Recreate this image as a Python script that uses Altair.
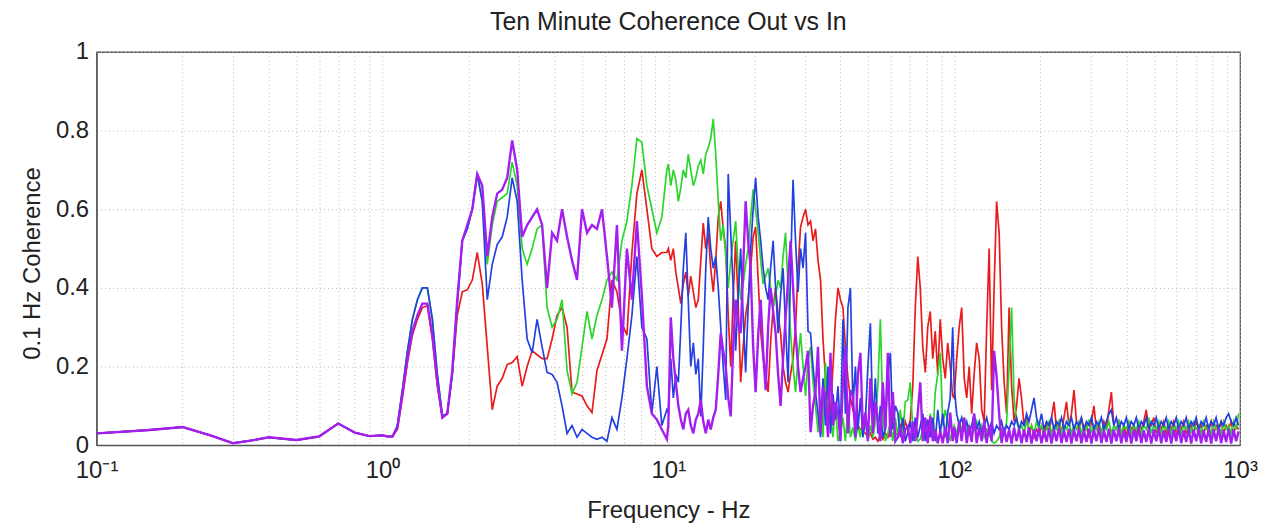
import altair as alt
import pandas as pd

# ---------------- data ----------------
low_freq = [0.1, 0.15, 0.2, 0.25, 0.3, 0.35, 0.4, 0.5, 0.6, 0.7, 0.8, 0.9]
low_vals = [0.03, 0.038, 0.046, 0.025, 0.005, 0.012, 0.02, 0.013, 0.022, 0.055, 0.032, 0.023]

freq_1_10 = [1.0, 1.041, 1.084, 1.128, 1.174, 1.223, 1.273, 1.325, 1.379, 1.436,
             1.495, 1.556, 1.62, 1.686, 1.755, 1.827, 1.902, 1.98, 2.062, 2.146,
             2.234, 2.326, 2.421, 2.52, 2.624, 2.731, 2.843, 2.96, 3.081, 3.207,
             3.339, 3.475, 3.618, 3.766, 3.921, 4.081, 4.249, 4.423, 4.604, 4.793,
             4.99, 5.194, 5.407, 5.629, 5.86, 6.1, 6.35, 6.61, 6.882, 7.164,
             7.457, 7.763, 8.081, 8.414, 8.758, 9.118, 9.491, 9.88]

freq_10_100 = [10.0, 10.20, 10.41, 10.62, 10.84, 11.06, 11.28, 11.51, 11.74, 11.98,
               12.23, 12.48, 12.73, 12.99, 13.25, 13.52, 13.79, 14.07, 14.36, 14.65,
               14.95, 15.25, 15.56, 15.88, 16.20, 16.53, 16.86, 17.20, 17.55, 17.91,
               18.27, 18.64, 19.02, 19.41, 19.80, 20.20, 20.62, 21.04, 21.46, 21.90,
               22.34, 22.79, 23.26, 23.73, 24.21, 24.70, 25.20, 25.71, 26.24, 26.77,
               27.31, 27.86, 28.43, 29.01, 29.60, 30.20, 30.81, 31.44, 32.07, 32.72,
               33.39, 34.07, 34.75, 35.46, 36.18, 36.91, 37.66, 38.42, 39.21, 40.01,
               40.81, 41.64, 42.49, 43.35, 44.23, 45.13, 46.04, 46.97, 47.93, 48.90,
               49.90, 50.91, 51.94, 52.99, 54.07, 55.17, 56.29, 57.43, 58.60, 59.79,
               61.00, 62.24, 63.50, 64.79, 66.10, 67.44, 68.82, 70.22, 71.64, 73.09,
               74.57, 76.08, 77.63, 79.21, 80.81, 82.45, 84.14, 85.85, 87.58, 89.36,
               91.18, 93.03, 94.91, 96.84, 98.80]

freq_100_1000 = [100.0, 102.0, 104.1, 106.2, 108.4, 110.6, 112.8, 115.1, 117.4, 119.8,
                 122.3, 124.8, 127.3, 129.9, 132.5, 135.2, 137.9, 140.7, 143.6, 146.5,
                 149.5, 152.5, 155.6, 158.8, 162.0, 165.3, 168.6, 172.0, 175.5, 179.1,
                 182.7, 186.4, 190.2, 194.1, 198.0, 202.0, 206.2, 210.4, 214.6, 219.0,
                 223.4, 227.9, 232.6, 237.3, 242.1, 247.0, 252.0, 257.1, 262.4, 267.7,
                 273.1, 278.6, 284.3, 290.1, 296.0, 302.0, 308.1, 314.4, 320.7, 327.2,
                 333.9, 340.7, 347.5, 354.6, 361.8, 369.1, 376.6, 384.2, 392.1, 400.1,
                 408.1, 416.4, 424.9, 433.5, 442.3, 451.3, 460.4, 469.7, 479.3, 489.0,
                 499.0, 509.1, 519.4, 529.9, 540.7, 551.7, 562.9, 574.3, 586.0, 597.9,
                 610.0, 622.4, 635.0, 647.9, 661.0, 674.4, 688.2, 702.2, 716.4, 730.9,
                 745.7, 760.8, 776.3, 792.1, 808.1, 824.5, 841.4, 858.5, 875.8, 893.6,
                 911.8, 930.3, 949.1, 968.4, 988.0]

# ---- red ----
red_1_10 = [0.025, 0.022, 0.022, 0.04, 0.12, 0.21, 0.28, 0.32, 0.35, 0.355,
            0.27, 0.15, 0.07, 0.08, 0.18, 0.33, 0.39, 0.395, 0.42, 0.49,
            0.41, 0.25, 0.09, 0.15, 0.17, 0.205, 0.21, 0.225, 0.15, 0.2,
            0.24, 0.23, 0.22, 0.22, 0.27, 0.33, 0.35, 0.30, 0.135, 0.13,
            0.125, 0.10, 0.083, 0.19, 0.23, 0.27, 0.42, 0.39, 0.31, 0.28,
            0.49, 0.64, 0.70, 0.60, 0.50, 0.48, 0.49, 0.49]
red_10_100 = [0.50, 0.47, 0.50, 0.44, 0.40, 0.36, 0.41, 0.44, 0.38, 0.43,
              0.39, 0.35, 0.37, 0.47, 0.565, 0.50, 0.54, 0.45, 0.39, 0.47,
              0.58, 0.62, 0.55, 0.50, 0.33, 0.20, 0.38, 0.52, 0.36, 0.16,
              0.25, 0.33, 0.37, 0.45, 0.53, 0.555, 0.42, 0.29, 0.22, 0.18,
              0.135, 0.26, 0.35, 0.40, 0.33, 0.285, 0.2, 0.16, 0.135, 0.18,
              0.22, 0.30, 0.45, 0.555, 0.58, 0.60, 0.56, 0.57, 0.52, 0.55,
              0.47, 0.42, 0.27, 0.17, 0.12, 0.08, 0.2, 0.32, 0.40, 0.37,
              0.35, 0.25, 0.17, 0.12, 0.09, 0.065, 0.05, 0.04, 0.035, 0.03,
              0.02, 0.03, 0.015, 0.02, 0.01, 0.025, 0.015, 0.03, 0.02, 0.04,
              0.02, 0.03, 0.025, 0.05, 0.03, 0.06, 0.04, 0.065, 0.15, 0.35,
              0.48, 0.40, 0.25, 0.185, 0.30, 0.34, 0.22, 0.29, 0.18, 0.32,
              0.22, 0.17, 0.26, 0.20, 0.125]
red_100_1000 = [0.12, 0.22, 0.30, 0.35, 0.17, 0.12, 0.20, 0.08, 0.18, 0.26,
                0.22, 0.09, 0.06, 0.30, 0.50, 0.14, 0.40, 0.62, 0.54, 0.30,
                0.16, 0.08, 0.35, 0.15, 0.06, 0.10, 0.17, 0.12, 0.05, 0.075,
                0.03, 0.05, 0.02, 0.04, 0.03, 0.05, 0.02, 0.06, 0.03, 0.07,
                0.11, 0.04, 0.06, 0.03, 0.07, 0.11, 0.05, 0.08, 0.14, 0.06,
                0.04, 0.07, 0.03, 0.05, 0.02, 0.06, 0.10, 0.04, 0.05, 0.03,
                0.06, 0.04, 0.09, 0.135, 0.05, 0.04, 0.06, 0.03, 0.05, 0.02,
                0.06, 0.04, 0.05, 0.03, 0.05, 0.04, 0.06, 0.09, 0.04, 0.05,
                0.07, 0.03, 0.05, 0.04, 0.06, 0.03, 0.05, 0.04, 0.06, 0.03,
                0.05, 0.04, 0.06, 0.03, 0.04, 0.05, 0.03, 0.06, 0.04, 0.05,
                0.03, 0.05, 0.04, 0.06, 0.03, 0.05, 0.04, 0.06, 0.03, 0.05,
                0.04, 0.06, 0.03, 0.05, 0.04]

# ---- green ----
green_1_10 = [0.025, 0.022, 0.022, 0.05, 0.14, 0.24, 0.32, 0.37, 0.40, 0.40,
              0.32, 0.18, 0.075, 0.08, 0.18, 0.36, 0.52, 0.55, 0.60, 0.69,
              0.62, 0.46, 0.56, 0.62, 0.63, 0.64, 0.72, 0.66, 0.50, 0.46,
              0.50, 0.55, 0.56, 0.35, 0.30, 0.32, 0.37, 0.19, 0.13, 0.16,
              0.25, 0.34, 0.27, 0.33, 0.37, 0.42, 0.44, 0.42, 0.52, 0.57,
              0.66, 0.78, 0.77, 0.66, 0.60, 0.54, 0.58, 0.70]
green_10_100 = [0.715, 0.66, 0.70, 0.675, 0.62, 0.655, 0.70, 0.68, 0.74, 0.70,
                0.66, 0.68, 0.71, 0.725, 0.69, 0.74, 0.757, 0.78, 0.83, 0.74,
                0.62, 0.52, 0.56, 0.48, 0.40, 0.47, 0.52, 0.57, 0.45, 0.37,
                0.41, 0.46, 0.50, 0.58, 0.65, 0.60, 0.54, 0.47, 0.41, 0.43,
                0.45, 0.40, 0.35, 0.38, 0.42, 0.40, 0.48, 0.54, 0.40, 0.285,
                0.20, 0.135, 0.22, 0.285, 0.20, 0.125, 0.22, 0.25, 0.16, 0.10,
                0.033, 0.12, 0.02, 0.21, 0.05, 0.08, 0.02, 0.10, 0.01, 0.033,
                0.07, 0.01, 0.10, 0.02, 0.045, 0.01, 0.05, 0.02, 0.06, 0.065,
                0.01, 0.05, 0.02, 0.06, 0.15, 0.32, 0.08, 0.01, 0.03, 0.06,
                0.01, 0.07, 0.02, 0.09, 0.03, 0.11, 0.115, 0.16, 0.04, 0.05,
                0.01, 0.015, 0.04, 0.065, 0.01, 0.08, 0.02, 0.135, 0.18, 0.235,
                0.05, 0.09, 0.058, 0.01, 0.04]
green_100_1000 = [0.05, 0.03, 0.06, 0.04, 0.07, 0.03, 0.05, 0.02, 0.04, 0.06,
                  0.03, 0.05, 0.02, 0.04, 0.03, 0.01, 0.005, 0.01, 0.02, 0.04,
                  0.03, 0.058, 0.20, 0.35, 0.12, 0.06, 0.04, 0.05, 0.03, 0.06,
                  0.04, 0.05, 0.03, 0.06, 0.04, 0.05, 0.03, 0.04, 0.06, 0.03,
                  0.05, 0.04, 0.06, 0.03, 0.05, 0.04, 0.06, 0.03, 0.05, 0.04,
                  0.06, 0.03, 0.05, 0.04, 0.065, 0.03, 0.05, 0.04, 0.06, 0.03,
                  0.05, 0.04, 0.06, 0.03, 0.05, 0.04, 0.06, 0.03, 0.05, 0.04,
                  0.06, 0.03, 0.05, 0.04, 0.06, 0.03, 0.05, 0.04, 0.07, 0.03,
                  0.05, 0.04, 0.06, 0.03, 0.05, 0.04, 0.06, 0.03, 0.05, 0.04,
                  0.06, 0.03, 0.05, 0.04, 0.06, 0.03, 0.058, 0.04, 0.05, 0.03,
                  0.06, 0.04, 0.05, 0.03, 0.06, 0.04, 0.05, 0.03, 0.06, 0.04,
                  0.05, 0.03, 0.06, 0.04, 0.08]

# ---- blue ----
blue_1_10 = [0.025, 0.022, 0.022, 0.05, 0.14, 0.24, 0.32, 0.37, 0.40, 0.40,
             0.32, 0.18, 0.075, 0.08, 0.18, 0.36, 0.52, 0.55, 0.60, 0.69,
             0.62, 0.37, 0.46, 0.51, 0.53, 0.58, 0.68, 0.62, 0.42, 0.27,
             0.235, 0.32, 0.25, 0.185, 0.18, 0.16, 0.10, 0.03, 0.05, 0.02,
             0.04, 0.03, 0.02, 0.015, 0.02, 0.01, 0.07, 0.04, 0.12, 0.22,
             0.33, 0.48, 0.30, 0.27, 0.08, 0.2, 0.05, 0.09]
blue_10_100 = [0.083, 0.22, 0.12, 0.18, 0.16, 0.30, 0.45, 0.54, 0.37, 0.20,
               0.26, 0.18, 0.22, 0.073, 0.25, 0.45, 0.58, 0.50, 0.45, 0.48,
               0.40, 0.30, 0.20, 0.115, 0.69, 0.54, 0.40, 0.24, 0.38, 0.50,
               0.33, 0.185, 0.35, 0.50, 0.60, 0.68, 0.58, 0.52, 0.45, 0.40,
               0.37, 0.45, 0.52, 0.40, 0.285, 0.38, 0.45, 0.30, 0.16, 0.45,
               0.675, 0.52, 0.39, 0.50, 0.45, 0.54, 0.29, 0.285, 0.20, 0.135,
               0.08, 0.02, 0.17, 0.05, 0.20, 0.03, 0.13, 0.065, 0.15, 0.03,
               0.32, 0.08, 0.35, 0.40, 0.10, 0.20, 0.04, 0.12, 0.02, 0.065,
               0.20, 0.31, 0.05, 0.17, 0.03, 0.10, 0.02, 0.04, 0.18, 0.235,
               0.04, 0.10, 0.083, 0.02, 0.07, 0.01, 0.033, 0.06, 0.01, 0.07,
               0.02, 0.048, 0.08, 0.01, 0.065, 0.02, 0.07, 0.01, 0.09, 0.03,
               0.08, 0.02, 0.083, 0.12, 0.30]
blue_100_1000 = [0.15, 0.08, 0.05, 0.07, 0.04, 0.06, 0.03, 0.05, 0.08, 0.04,
                 0.06, 0.03, 0.05, 0.07, 0.04, 0.06, 0.03, 0.05, 0.04, 0.06,
                 0.03, 0.05, 0.04, 0.06, 0.05, 0.07, 0.04, 0.06, 0.05, 0.08,
                 0.06, 0.09, 0.12, 0.07, 0.05, 0.08, 0.04, 0.06, 0.05, 0.07,
                 0.04, 0.06, 0.05, 0.07, 0.04, 0.06, 0.05, 0.07, 0.04, 0.06,
                 0.05, 0.07, 0.04, 0.06, 0.05, 0.07, 0.04, 0.06, 0.05, 0.07,
                 0.04, 0.06, 0.08, 0.09, 0.05, 0.07, 0.04, 0.06, 0.05, 0.07,
                 0.04, 0.06, 0.05, 0.07, 0.04, 0.06, 0.05, 0.07, 0.04, 0.06,
                 0.05, 0.07, 0.04, 0.06, 0.05, 0.07, 0.04, 0.06, 0.05, 0.07,
                 0.04, 0.06, 0.05, 0.07, 0.04, 0.06, 0.05, 0.07, 0.04, 0.06,
                 0.05, 0.07, 0.04, 0.06, 0.05, 0.07, 0.04, 0.06, 0.05, 0.07,
                 0.08, 0.06, 0.05, 0.07, 0.05]

# ---- purple ----
purple_1_10 = [0.025, 0.022, 0.022, 0.045, 0.13, 0.22, 0.29, 0.33, 0.36, 0.36,
               0.28, 0.16, 0.07, 0.08, 0.19, 0.37, 0.52, 0.56, 0.60, 0.69,
               0.66, 0.48, 0.58, 0.64, 0.65, 0.68, 0.775, 0.70, 0.53, 0.56,
               0.58, 0.60, 0.56, 0.40, 0.54, 0.52, 0.60, 0.53, 0.47, 0.42,
               0.60, 0.54, 0.56, 0.55, 0.60, 0.48, 0.35, 0.56, 0.24, 0.50,
               0.37, 0.57, 0.38, 0.15, 0.08, 0.065, 0.04, 0.015]
purple_10_100 = [0.05, 0.325, 0.22, 0.16, 0.10, 0.065, 0.04, 0.08, 0.09, 0.05,
                 0.03, 0.065, 0.08, 0.115, 0.06, 0.03, 0.065, 0.04, 0.07, 0.09,
                 0.18, 0.285, 0.24, 0.2, 0.12, 0.073, 0.25, 0.37, 0.31, 0.285,
                 0.45, 0.62, 0.52, 0.45, 0.25, 0.135, 0.28, 0.37, 0.24, 0.14,
                 0.30, 0.40, 0.34, 0.285, 0.18, 0.10, 0.22, 0.325, 0.42, 0.52,
                 0.40, 0.285, 0.20, 0.135, 0.17, 0.2, 0.24, 0.033, 0.10, 0.135,
                 0.25, 0.03, 0.15, 0.125, 0.02, 0.235, 0.05, 0.11, 0.083, 0.01,
                 0.16, 0.25, 0.03, 0.14, 0.125, 0.02, 0.18, 0.235, 0.04, 0.083,
                 0.01, 0.17, 0.03, 0.11, 0.065, 0.01, 0.16, 0.04, 0.235, 0.02,
                 0.135, 0.01, 0.02, 0.045, 0.005, 0.04, 0.048, 0.005, 0.06, 0.01,
                 0.083, 0.16, 0.01, 0.07, 0.005, 0.073, 0.01, 0.04, 0.005, 0.035,
                 0.005, 0.045, 0.005, 0.083, 0.01]
purple_100_1000 = [0.045, 0.005, 0.06, 0.01, 0.07, 0.005, 0.05, 0.008, 0.08, 0.005,
                   0.045, 0.01, 0.06, 0.005, 0.05, 0.01, 0.24, 0.175, 0.08, 0.005,
                   0.045, 0.008, 0.04, 0.004, 0.045, 0.01, 0.042, 0.005, 0.04, 0.008,
                   0.045, 0.004, 0.04, 0.01, 0.043, 0.005, 0.038, 0.008, 0.042, 0.004,
                   0.04, 0.01, 0.045, 0.005, 0.038, 0.008, 0.042, 0.004, 0.04, 0.01,
                   0.043, 0.005, 0.038, 0.008, 0.042, 0.004, 0.04, 0.01, 0.045, 0.005,
                   0.038, 0.008, 0.042, 0.004, 0.04, 0.01, 0.043, 0.005, 0.038, 0.008,
                   0.042, 0.004, 0.04, 0.01, 0.045, 0.005, 0.038, 0.008, 0.042, 0.004,
                   0.04, 0.01, 0.043, 0.005, 0.038, 0.008, 0.042, 0.004, 0.04, 0.01,
                   0.045, 0.005, 0.038, 0.008, 0.042, 0.004, 0.04, 0.01, 0.043, 0.005,
                   0.038, 0.008, 0.042, 0.004, 0.04, 0.01, 0.045, 0.005, 0.038, 0.008,
                   0.042, 0.004, 0.04, 0.01, 0.035]

series_names = ["red", "green", "blue", "purple"]
series_colors = ["#e81c1c", "#2ad62a", "#2340e0", "#a51ef0"]
series_widths = [1.7, 1.7, 1.7, 2.4]
series_parts = {
    "red": (red_1_10, red_10_100, red_100_1000),
    "green": (green_1_10, green_10_100, green_100_1000),
    "blue": (blue_1_10, blue_10_100, blue_100_1000),
    "purple": (purple_1_10, purple_10_100, purple_100_1000),
}

x_tick_values = [0.1, 0.2, 0.3, 0.4, 0.5, 0.6, 0.7, 0.8, 0.9,
                 1, 2, 3, 4, 5, 6, 7, 8, 9,
                 10, 20, 30, 40, 50, 60, 70, 80, 90,
                 100, 200, 300, 400, 500, 600, 700, 800, 900, 1000]
y_tick_values = [0, 0.2, 0.4, 0.6, 0.8, 1]

# ---------------- chart ----------------
FONT = "Liberation Sans"

x_axis = alt.Axis(
    values=x_tick_values,
    labelExpr=("datum.value == 0.1 ? '10\u207b\u00b9' : datum.value == 1 ? '10\u2070' : "
               "datum.value == 10 ? '10\u00b9' : datum.value == 100 ? '10\u00b2' : "
               "datum.value == 1000 ? '10\u00b3' : ''"),
    labelOverlap=False, labelBound=False, labelFlush=False,
    grid=True, gridColor="#b5b5b5", gridDash=[1, 3], gridWidth=1,
    ticks=False, domainColor="#555555", domainWidth=1.3,
    labelFont=FONT, labelFontSize=24, labelColor="#222222", labelPadding=14,
    title="Frequency - Hz", titleFont=FONT, titleFontSize=24, titleFontWeight="normal",
    titleColor="#222222", titleY=73, titleBaseline="alphabetic",
)
y_axis = alt.Axis(
    values=y_tick_values, format="~g",
    grid=True, gridColor="#b5b5b5", gridDash=[1, 3], gridWidth=1,
    ticks=False, domainColor="#555555", domainWidth=1.3,
    labelFont=FONT, labelFontSize=24, labelColor="#222222", labelPadding=8,
    title="0.1 Hz Coherence", titleFont=FONT, titleFontSize=24, titleFontWeight="normal",
    titleColor="#222222", titleX=-57, titleY=212, titleBaseline="alphabetic", titleAngle=-90,
)

layers = []
for name, color, width in zip(series_names, series_colors, series_widths):
    a, b, c = series_parts[name]
    rows = []
    for f, v in zip(low_freq, low_vals):
        rows.append({"freq": f, "coh": v, "series": name})
    for freqs, vals in ((freq_1_10, a), (freq_10_100, b), (freq_100_1000, c)):
        for f, v in zip(freqs, vals):
            rows.append({"freq": f, "coh": v, "series": name})
    df = pd.DataFrame(rows)
    layer = alt.Chart(df).mark_line(color=color, strokeWidth=width, clip=True).encode(
        x=alt.X("freq:Q", scale=alt.Scale(type="log", domain=[0.1, 1000], nice=False), axis=x_axis),
        y=alt.Y("coh:Q", scale=alt.Scale(domain=[0, 1], nice=False), axis=y_axis),
    )
    layers.append(layer)

chart = alt.layer(*layers).properties(
    width=1149,
    height=395,
    title=alt.TitleParams("Ten Minute Coherence Out vs In", font=FONT, fontSize=25,
                          fontWeight="normal", color="#222222", anchor="middle",
                          baseline="alphabetic", offset=-1, dy=14),
    autosize=alt.AutoSizeParams(type="none"),
    padding={"left": 89, "top": 43, "right": 18, "bottom": 81},
    background="white",
).configure_view(stroke="#555555", strokeWidth=1.3)

chart.save("out.html", embed_options={"renderer": "svg", "actions": False})
